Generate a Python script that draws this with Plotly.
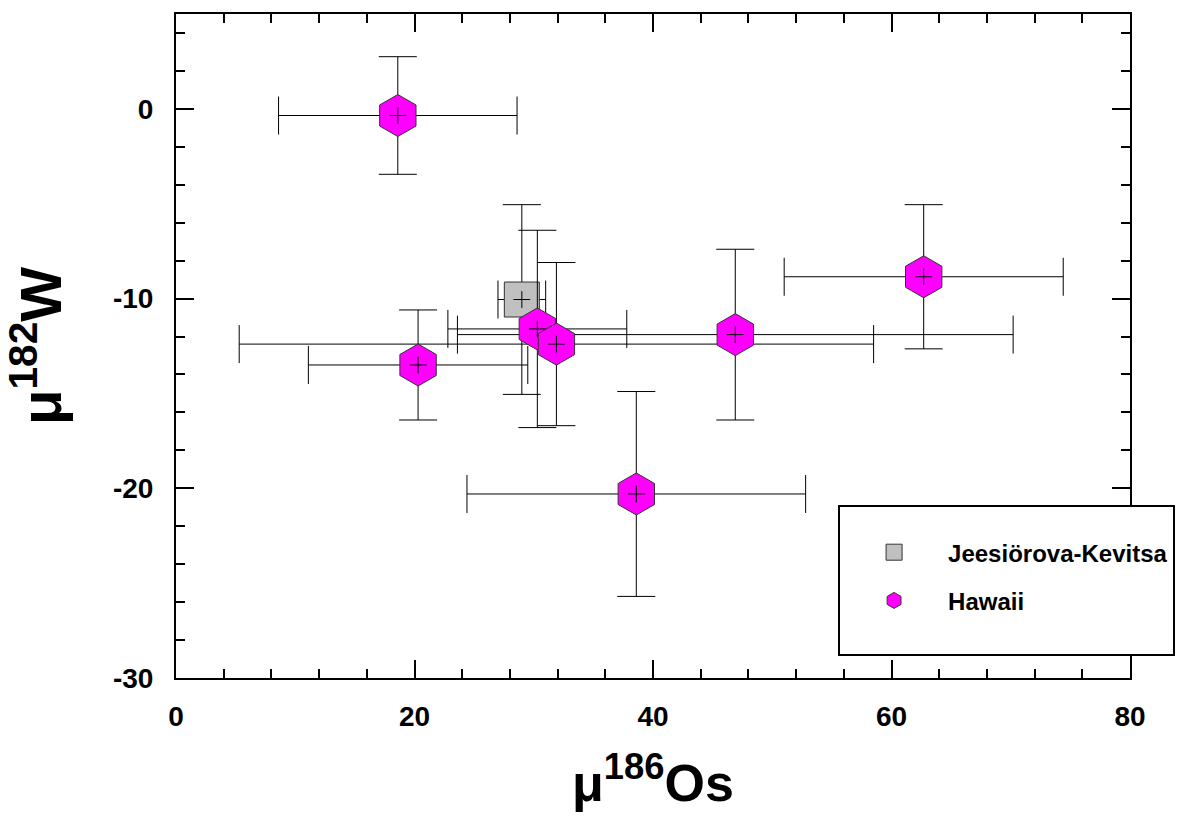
import plotly.graph_objects as go

# ---- data ----
jk_x = [29.0]
jk_y = [-10.05]
jk_xerr = [2.0]
jk_yerr = [5.0]

hw_x = [18.6, 30.3, 31.9, 20.3, 46.9, 38.6, 62.7]
hw_y = [-0.35, -11.6, -12.4, -13.5, -11.9, -20.3, -8.85]
hw_xerr = [10.0, 7.5, 26.6, 9.2, 23.3, 14.2, 11.7]
hw_yerr = [3.1, 5.2, 4.3, 2.9, 4.5, 5.4, 3.8]

x_tickvals = [0, 20, 40, 60, 80]
x_ticktext = ["0", "20", "40", "60", "80"]
y_tickvals = [-30, -20, -10, 0]
y_ticktext = ["-30", "-20", "-10", "0"]

FONT = "Liberation Sans Narrow, Arial Narrow, Liberation Sans, Arial, sans-serif"

err_style = dict(type="data", color="black", thickness=1, width=19)

fig = go.Figure()

fig.add_trace(go.Scatter(
    x=jk_x, y=jk_y, mode="markers", name="Jeesiörova-Kevitsa",
    error_x=dict(array=jk_xerr, **err_style),
    error_y=dict(array=jk_yerr, **err_style),
    marker=dict(symbol="square", size=35, color="#C0C0C0",
                line=dict(color="#333333", width=1)),
    legendgroup="a",
))
fig.add_trace(go.Scatter(
    x=hw_x, y=hw_y, mode="markers", name="Hawaii<br> ",
    error_x=dict(array=hw_xerr, **err_style),
    error_y=dict(array=hw_yerr, **err_style),
    marker=dict(symbol="hexagon", size=42, color="#FF00FF",
                line=dict(color="#333333", width=1)),
    legendgroup="b",
))
fig.add_trace(go.Scatter(
    x=jk_x + hw_x, y=jk_y + hw_y, mode="markers", showlegend=False,
    marker=dict(symbol="cross-thin", size=12, color="black",
                line=dict(color="black", width=1)),
    hoverinfo="skip",
))

axis_common = dict(
    showgrid=False, zeroline=False, showline=True, linecolor="black",
    linewidth=2, mirror="allticks", ticks="inside", ticklen=18,
    tickwidth=2, tickcolor="black",
    tickfont=dict(family=FONT, size=28, color="black", weight="bold"),
)

fig.update_xaxes(
    range=[0, 80], tickmode="array", tickvals=x_tickvals, ticktext=x_ticktext,
    minor=dict(dtick=4, tick0=0, ticks="inside", ticklen=9, tickwidth=2,
               tickcolor="black", showgrid=False),
    ticklabelstandoff=12,
    title=dict(text="μ<sup>186</sup>Os", standoff=34,
               font=dict(family=FONT, size=52, color="black", weight="bold")),
    **axis_common,
)
fig.update_yaxes(
    range=[-30, 5], tickmode="array", tickvals=y_tickvals, ticktext=y_ticktext,
    minor=dict(dtick=2, tick0=0, ticks="inside", ticklen=9, tickwidth=2,
               tickcolor="black", showgrid=False),
    ticklabelstandoff=15,
    title=dict(text="μ<sup>182</sup>W", standoff=42,
               font=dict(family=FONT, size=58, color="black", weight="bold")),
    **axis_common,
)

fig.update_layout(
    width=1203, height=831,
    margin=dict(l=176, r=73, t=12, b=153),
    paper_bgcolor="white", plot_bgcolor="white",
    legend=dict(
        x=0.694, y=0.261, xanchor="left", yanchor="top",
        bgcolor="white", bordercolor="black", borderwidth=2,
        font=dict(family=FONT, size=24, color="black", weight="bold"),
        title=dict(text=" ", font=dict(size=18)),
        tracegroupgap=14, itemwidth=98, indentation=0, valign="top",
    ),
)

fig.write_html("out.html")
